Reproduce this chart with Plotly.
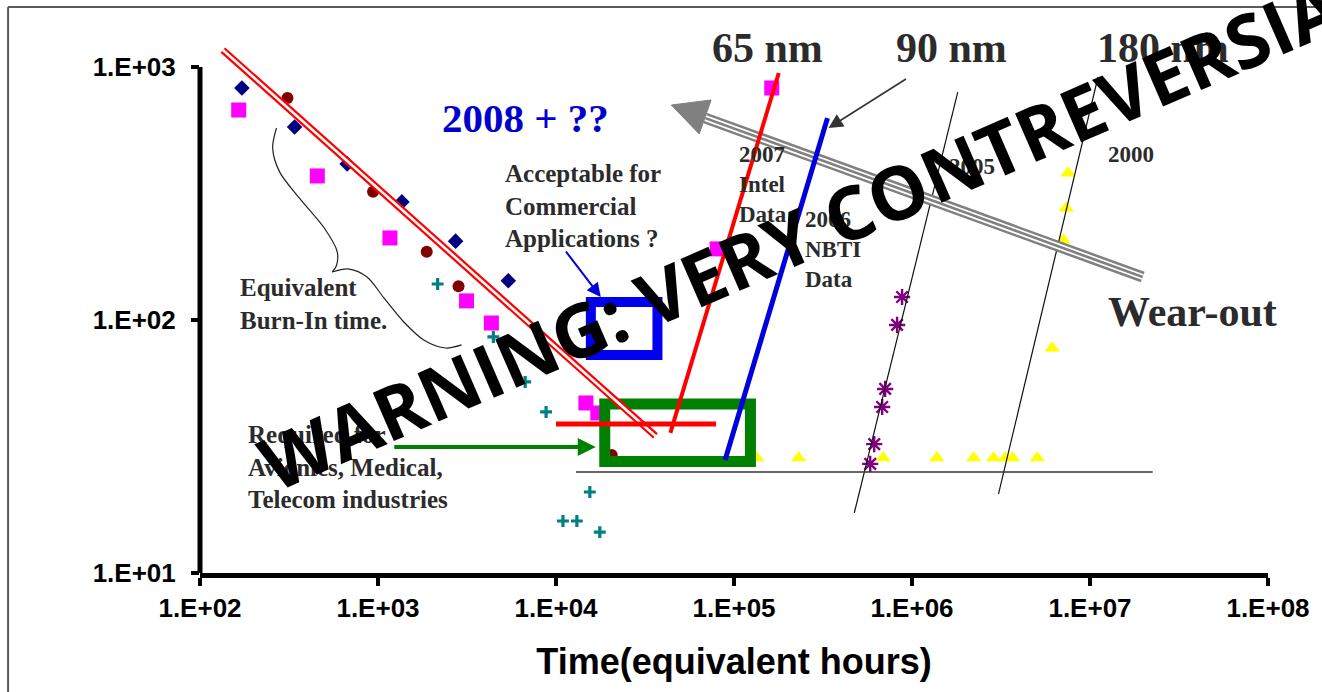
import plotly.graph_objects as go

# ---------------- data: equivalent hours vs. value ----------------
diamond_x = [172, 340, 671, 1362, 2729, 5395]
diamond_y = [826, 579, 414, 293, 205, 143]

circle_x = [310, 938, 1878, 2834, 20550]
circle_y = [754, 321, 186, 136, 29.3]

square_x = [165, 456, 1167, 3143, 4335, 14720, 17170, 80400, 163000]
square_y = [676, 371, 211, 119, 97.3, 47.0, 42.9, 191, 826]

cross_x = [2163, 4446, 6710, 8795, 15490, 10940, 13100, 17620]
cross_y = [138.8, 85.7, 56.9, 43.3, 20.9, 16.05, 16.05, 14.5]

star_x = [879500, 824500, 706600, 679800, 613500, 582400]
star_y = [123.3, 95.6, 53.4, 45.3, 32.3, 27.0]

tri_x = [134400, 230700, 688500, 1379000, 2220000, 2872000, 3350000, 3670000,
         5060000, 7530000, 7350000, 7070000, 6130000]
tri_y = [28.5, 28.5, 28.5, 28.5, 28.5, 28.5, 28.5, 28.5, 28.5, 381, 277, 207, 77.5]

# trend / reference lines
burnin_x, burnin_y = [134.4, 36200], [1167, 34.8]
req_x, req_y = [10000, 79300], [38.8, 38.8]
nm65_x, nm65_y = [43900, 178400], [35.8, 947]
nm90_x, nm90_y = [89100, 335000], [27.97, 628]
yr2005_x, yr2005_y = [474000, 1807000], [17.27, 796]
yr2000_x, yr2000_y = [3060000, 11090000], [20.5, 913]
floor_x, floor_y = [12940, 22500000], [25.07, 25.07]

# highlighted regions
green_box_x, green_box_y = [18790, 123700], [27.6, 46.6]
blue_box_x, blue_box_y = [15700, 37150], [72.7, 117.8]

# wear-out arrow
wear_shaft_x, wear_shaft_y = [69000, 19770000], [628, 147.9]
wear_head_x, wear_head_y = [44460, 74380, 63740], [707.6, 740.6, 543.5]

# curly brace next to the burn-in label
brace_top_x = [269, 256, 280, 362, 499, 590, 583, 553]
brace_top_y = [574, 478, 385, 303, 231, 186, 163.5, 154.8]
brace_low_x = [553, 689, 868, 1080, 1397, 1807, 2399, 2946]
brace_low_y = [154.8, 159, 147.9, 122.2, 98.2, 83.4, 77.5, 79.7]

x_ticks = [1e2, 1e3, 1e4, 1e5, 1e6, 1e7, 1e8]
x_ticktext = ["1.E+02", "1.E+03", "1.E+04", "1.E+05", "1.E+06", "1.E+07", "1.E+08"]
y_ticks = [10, 100, 1000]
y_ticktext = ["1.E+01", "1.E+02", "1.E+03"]

# ---------------- layout geometry ----------------
W, H = 1322, 692
L, R, T, B = 200, 48, 20, 119
PW, PH = W - L - R, H - T - B
Y_DECADE_PX = 253

SERIF = "Liberation Serif"
SANS = "Liberation Sans"
INK = "#2b2b2b"


def at(xp, yp):
    """Pixel position on the page -> paper coordinates."""
    return dict(x=(xp - L) / PW, y=(H - B - yp) / PH, xref="paper", yref="paper")


fig = go.Figure()


def markers(x, y, **marker):
    fig.add_trace(go.Scatter(x=x, y=y, mode="markers", marker=marker,
                             showlegend=False, hoverinfo="skip"))


def line(x, y, color, width, shape="linear"):
    fig.add_trace(go.Scatter(x=x, y=y, mode="lines",
                             line=dict(color=color, width=width, shape=shape, smoothing=0.9),
                             showlegend=False, hoverinfo="skip"))


def box(xs, ys, color, width):
    x0, x1 = xs
    y0, y1 = ys
    line([x0, x1, x1, x0, x0, x1], [y0, y0, y1, y1, y0, y0], color, width)


# data markers
markers(tri_x, tri_y, symbol="triangle-up", size=13.5, color="#FFFF00")
markers(diamond_x, diamond_y, symbol="diamond", size=12, color="#000080")
markers(circle_x, circle_y, symbol="circle", size=12, color="#800000")
markers(square_x, square_y, symbol="square", size=15, color="#FF00FF")
markers(cross_x, cross_y, symbol="cross-thin-open", size=8.5, color="#008080",
        line=dict(color="#008080", width=3.2))
markers(star_x, star_y, symbol="asterisk-open", size=13.5, color="#800080",
        line=dict(color="#800080", width=2.4))

# thin technology-year lines and the floor line
line(yr2005_x, yr2005_y, "#111111", 1.2)
line(yr2000_x, yr2000_y, "#111111", 1.2)
line(floor_x, floor_y, "#333333", 1.3)

# brace
line(brace_top_x, brace_top_y, "#222222", 1.2, "spline")
line(brace_low_x, brace_low_y, "#222222", 1.2, "spline")

# wear-out arrow (triple stroke shaft + filled head)
line(wear_shaft_x, wear_shaft_y, "#808080", 11)
line(wear_shaft_x, wear_shaft_y, "#FFFFFF", 6)
line(wear_shaft_x, wear_shaft_y, "#808080", 2.6)
fig.add_trace(go.Scatter(x=wear_head_x + wear_head_x[:1], y=wear_head_y + wear_head_y[:1],
                         mode="lines", fill="toself", fillcolor="#808080",
                         line=dict(color="#808080", width=1),
                         showlegend=False, hoverinfo="skip"))

# required region
box(green_box_x, green_box_y, "#008000", 11)

# burn-in trend (double red line)
line(burnin_x, burnin_y, "#FF0000", 7)
line(burnin_x, burnin_y, "#FFFFFF", 2.6)

line(req_x, req_y, "#FF0000", 5)
line(nm65_x, nm65_y, "#FF0000", 4)
line(nm90_x, nm90_y, "#0000DD", 5)
box(blue_box_x, blue_box_y, "#0000EE", 10)

annotations = []


def text(s, xp, yp, size, family=SERIF, color=INK, **kw):
    a = at(xp, yp)
    a.update(text=s, showarrow=False, xanchor="left", yanchor="middle", align="left",
             font=dict(family=family, size=size, color=color, weight="bold"))
    a.update(kw)
    annotations.append(a)


def arrow(tail, tip, color, width, size):
    a = at(*tip)
    a.update(text="", showarrow=True, arrowhead=2, arrowsize=size, arrowwidth=width,
             arrowcolor=color, ax=tail[0] - tip[0], ay=tail[1] - tip[1],
             axref="pixel", ayref="pixel", standoff=0, startstandoff=0)
    annotations.append(a)


text("65 nm", 713, 48, 42)
text("90 nm", 898, 48, 42)
text("180 nm", 1100, 48, 42)
text("2008 + ??", 441, 118, 41, color="#0000CC")
text("Wear-out", 1111, 312, 42)
text("Acceptable for<br>Commercial<br>Applications ?", 505, 206, 25)
text("Equivalent<br>Burn-In time.", 238, 304, 25)
text("Required for<br>Avionics, Medical,<br>Telecom industries", 246, 467, 25)
text("2007<br>Intel<br>Data", 740, 184, 23)
text("2006<br>NBTI<br>Data", 806, 250, 23)
text("2005", 951, 167, 23)
text("2000", 1111, 154, 23)

arrow((395, 447), (598, 447), "#008000", 4, 0.9)
arrow((567, 250), (603, 297), "#0000DD", 2, 1.4)
arrow((911, 78), (832, 128), "#333333", 1.6, 1.8)

# watermark across the whole chart
wm = at(822, 226)
wm.update(text="WARNING: VERY CONTREVERSIAL", showarrow=False, textangle=-23.5,
          xanchor="center", yanchor="middle",
          font=dict(family="Open Sans", size=74, color="black", weight="bold"))
annotations.append(wm)

shapes = [
    # vertical axis line from 1e1 up to 1e3
    dict(type="line", xref="paper", x0=0, x1=0, yref="y", y0=10, y1=1000,
         line=dict(color="black", width=5)),
    # page frame
    dict(type="line", xref="paper", yref="paper", x0=(7 - L) / PW, x1=(W - L) / PW,
         y0=(H - B - 7) / PH, y1=(H - B - 7) / PH, line=dict(color="#5a5a5a", width=2)),
    dict(type="line", xref="paper", yref="paper", x0=(7 - L) / PW, x1=(7 - L) / PW,
         y0=(H - B - 7) / PH, y1=-B / PH, line=dict(color="#5a5a5a", width=2)),
]

tick_font = dict(family=SANS, size=26, color="black", weight="bold")

fig.update_layout(
    width=W, height=H,
    margin=dict(l=L, r=R, t=T, b=B),
    paper_bgcolor="white", plot_bgcolor="white",
    showlegend=False,
    annotations=annotations,
    shapes=shapes,
    xaxis=dict(type="log", range=[2, 8], showline=True, linecolor="black", linewidth=5,
               ticks="outside", ticklen=8, tickwidth=4, tickcolor="black",
               tickvals=x_ticks, ticktext=x_ticktext, tickfont=tick_font,
               showgrid=False, zeroline=False,
               title=dict(text="Time(equivalent hours)", standoff=28,
                          font=dict(family=SANS, size=36, color="black", weight="bold"))),
    yaxis=dict(type="log", range=[1, 1 + PH / Y_DECADE_PX], showline=False,
               ticks="outside", ticklen=8, tickwidth=4, tickcolor="black",
               tickvals=y_ticks, ticktext=y_ticktext, tickfont=tick_font,
               ticklabelstandoff=10, showgrid=False, zeroline=False),
)

fig.write_html("out.html")
